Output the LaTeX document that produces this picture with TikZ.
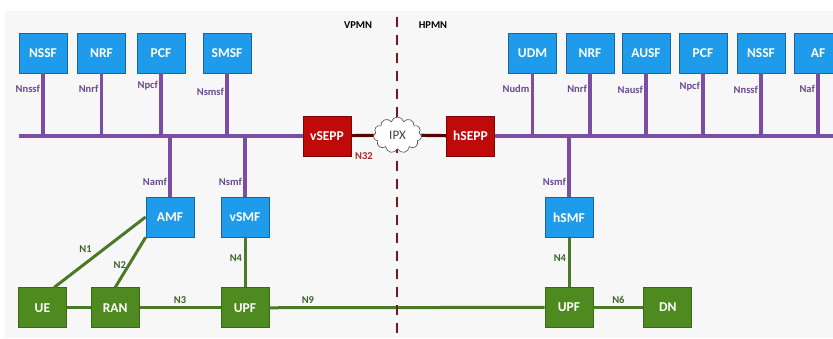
\documentclass[tikz,border=0pt]{standalone}
\usepackage{fontspec}
\setmainfont{Carlito}
\usetikzlibrary{positioning,shapes.symbols}
\definecolor{nfblue}{HTML}{1F9BEC}
\definecolor{nfline}{HTML}{1B64A0}
\definecolor{upgreen}{HTML}{4E8A1F}
\definecolor{upline}{HTML}{3A6816}
\definecolor{seppred}{HTML}{C00A0A}
\definecolor{seppline}{HTML}{7A0505}
\definecolor{buspurple}{HTML}{7B4EA3}
\definecolor{ifcpurple}{HTML}{6A4A90}
\definecolor{linkgreen}{HTML}{4A7A28}
\definecolor{refgreen}{HTML}{3F6526}
\definecolor{divred}{HTML}{6E1A1E}
\definecolor{n32red}{HTML}{B02424}
\definecolor{bg}{HTML}{F7F7F7}

\begin{document}
\begin{tikzpicture}[x=1pt,y=-1pt,
 nf/.style={draw=nfline,fill=nfblue,text=white,line width=0.8pt,minimum width=48pt,minimum height=40pt,inner sep=0pt,font=\bfseries\fontsize{13.5}{14}\selectfont},
 up/.style={nf,draw=upline,fill=upgreen},
 sepp/.style={nf,draw=seppline,fill=seppred},
 bus/.style={draw=buspurple,line width=3.2pt},
 link/.style={draw=linkgreen,line width=3pt},
 ifc/.style={text=ifcpurple,font=\bfseries\fontsize{10.5}{11}\selectfont,inner sep=1.5pt},
 ref/.style={ifc,text=refgreen}]
\useasboundingbox (0,0) rectangle (833,339);
\fill[bg] (5,11) rectangle (833,338);
% visited network
\node[nf] (vnssf) at (43,53) {NSSF}; \node[nf] (vnrf) at (101.5,53) {NRF}; \node[nf] (vpcf) at (161,53) {PCF}; \node[nf] (vsmsf) at (227,53) {SMSF};
\node[sepp] (vsepp) at (327,136) {vSEPP};
\node[nf] (amf) at (170,217) {AMF}; \node[nf] (vsmf) at (245,217) {vSMF};
\node[up] (vupf) [below=50pt of vsmf] {UPF}; \node[up] (ran) [left=81pt of vupf] {RAN}; \node[up] (ue) [left=24pt of ran] {UE};
% home network
\node[sepp] (hsepp) at (470.5,136) {hSEPP};
\node[nf] (udm) at (532.5,53) {UDM}; \node[nf] (hnrf) at (590,53) {NRF}; \node[nf] (ausf) at (646,53) {AUSF};
\node[nf] (hpcf) at (703,53) {PCF}; \node[nf] (hnssf) at (761,53) {NSSF}; \node[nf] (af) at (818,53) {AF};
\node[nf] (hsmf) at (569,217.5) {hSMF};
\node[up] (hupf) [below=49pt of hsmf] {UPF}; \node[up] (dn) [right=50pt of hupf] {DN};
\coordinate (busL) at (19,136); \coordinate (busR) at (833,136);
% service based interfaces
\draw[bus] (busL) -- (vsepp.west) (hsepp.east) -- (busR);
\draw[bus] (vnssf.south) -- (vnssf.south |- busL) node[ifc,pos=0.25,left] {Nnssf};
\draw[bus] (vnrf.south) -- (vnrf.south |- busL) node[ifc,pos=0.25,left] {Nnrf};
\draw[bus] (vpcf.south) -- (vpcf.south |- busL) node[ifc,pos=0.19,left] {Npcf};
\draw[bus] (vsmsf.south) -- (vsmsf.south |- busL) node[ifc,pos=0.3,left] {Nsmsf};
\draw[bus] (amf.north |- busL) -- (amf.north) node[ifc,pos=0.75,left] {Namf};
\draw[bus] (vsmf.north |- busL) -- (vsmf.north) node[ifc,pos=0.75,left] {Nsmf};
\draw[bus] (udm.south) -- (udm.south |- busR) node[ifc,pos=0.25,left] {Nudm};
\draw[bus] (hnrf.south) -- (hnrf.south |- busR) node[ifc,pos=0.25,left] {Nnrf};
\draw[bus] (ausf.south) -- (ausf.south |- busR) node[ifc,pos=0.27,left] {Nausf};
\draw[bus] (hpcf.south) -- (hpcf.south |- busR) node[ifc,pos=0.21,left] {Npcf};
\draw[bus] (hnssf.south) -- (hnssf.south |- busR) node[ifc,pos=0.27,left] {Nnssf};
\draw[bus] (af.south) -- (af.south |- busR) node[ifc,pos=0.24,left] {Naf};
\draw[bus] (hsmf.north |- busR) -- (hsmf.north) node[ifc,pos=0.75,left] {Nsmf};
% reference points
\draw[link] (ue.60) -- (amf.west) node[ref,pos=0.45,above left=1pt] {N1};
\draw[link] (ran.north) -- (amf.south west) node[ref,pos=0.45,left] {N2};
\draw[link] (ue) -- (ran); \draw[link] (ran) -- (vupf) node[ref,midway,above=1pt] {N3};
\draw[link] (vupf) -- (hupf) node[ref,pos=0.14,above=1pt] {N9};
\draw[link] (hupf) -- (dn) node[ref,midway,above=1pt] {N6};
\draw[link] (vsmf) -- (vupf) node[ref,pos=0.42,left] {N4};
\draw[link] (hsmf) -- (hupf) node[ref,pos=0.42,left] {N4};
% roaming border
\coordinate (divT) at (397,17); \coordinate (divB) at (397,336);
\draw[divred,line width=2.6pt,dash pattern=on 10pt off 8pt] (divT) -- (divB);
\node[font=\bfseries\fontsize{10.5}{11}\selectfont] (vpmn) at (358,25) {VPMN};
\node[font=\bfseries\fontsize{10.5}{11}\selectfont] (hpmn) at (433,25) {HPMN};
\node[cloud,cloud puffs=11,aspect=1.4,draw=black!70,fill=white,line width=0.6pt,minimum width=48pt,minimum height=36pt,inner sep=0pt,text=black!75,font=\fontsize{13}{13}\selectfont] (ipx) at (397.5,135) {IPX};
\draw[seppline!70!black,line width=3.2pt] (vsepp) -- (ipx) (ipx) -- (hsepp);
\node[ifc,text=n32red,right=2pt of vsepp.south east] (n32) {N32};
\end{tikzpicture}
\end{document}
